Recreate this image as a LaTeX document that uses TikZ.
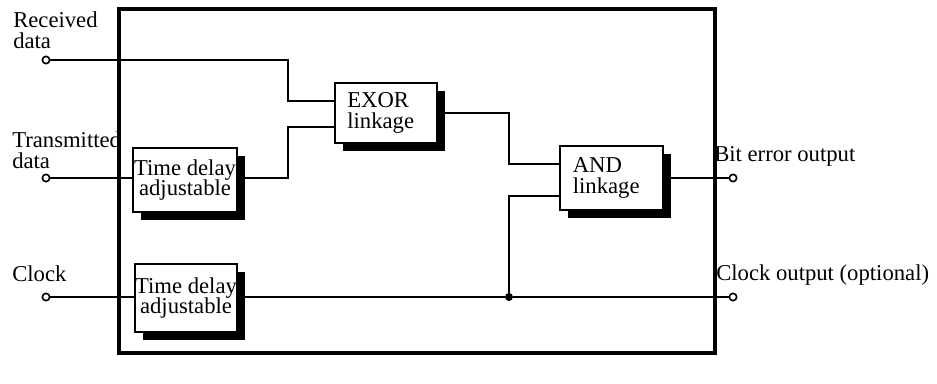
\documentclass[tikz,border=0pt]{standalone}
\usepackage{fontspec}
\setmainfont{Liberation Serif}
\usetikzlibrary{shadows}
\begin{document}
\begin{tikzpicture}[x=0.75pt,y=-0.75pt,
  txt/.style={font=\fontsize{17}{15.5}\selectfont, inner sep=0pt},
  lbl/.style={txt, align=left},
  wire/.style={line width=1.1pt},
  framebox/.style={line width=2.6pt},
  blk/.style={txt, draw, line width=1.1pt, fill=white,
    drop shadow={shadow xshift=6pt, shadow yshift=-6pt, fill=black, opacity=1}},
  gate/.style={blk, align=left, text width=58pt, inner xsep=8pt},
  delay/.style={blk, align=center},
  term/.style={circle, draw, fill=white, line width=1.2pt, inner sep=0pt, minimum size=5.5pt},
  dot/.style={circle, fill=black, inner sep=0pt, minimum size=6pt}]
\useasboundingbox (0,0) rectangle (937,383);

% blocks
\node[gate, minimum width=76.5pt, minimum height=45pt] (exor) at (386,113) {EXOR\\linkage};
\node[gate, minimum width=77.25pt, minimum height=48pt] (and) at (611.5,178) {AND\\linkage};
\node[delay, minimum width=78pt, minimum height=48pt] (td1) at (185,180) {Time delay\\adjustable};
\node[delay, minimum width=76.5pt, minimum height=51pt] (td2) at (186,298) {Time delay\\adjustable};

% terminals
\node[term] (rd) at (46,60) {};
\node[term] (txd) at (46,178) {};
\node[term] (clk) at (46,297) {};
\node[term] (beo) at (733,178) {};
\node[term] (clko) at (733,297) {};
\node[dot] (jn) at (509,297) {};

% wires
\draw[wire] (rd) -- (288,60) -- (288,101) -- (exor.west |- 0,101);
\draw[wire] (txd) -- (txd -| td1.west);
\draw[wire] (td1.east |- 0,178) -- (288,178) -- (288,127) -- (exor.west |- 0,127);
\draw[wire] (exor.east |- 0,113) -- (509,113) -- (509,164) -- (and.west |- 0,164);
\draw[wire] (and.east |- 0,178) -- (beo);
\draw[wire] (clk) -- (clk -| td2.west);
\draw[wire] (td2.east |- 0,297) -- (jn) -- (clko);
\draw[wire] (jn) -- (509,196) -- (and.west |- 0,196);

% outer frame
\draw[framebox] (119,9) rectangle (715,353);

% labels
\node[lbl, anchor=base west] (lrd) at (13,48) {Received\\data};
\node[lbl, anchor=base west] (ltx) at (12,168) {Transmitted\\data};
\node[lbl, anchor=base west] (lclk) at (12,281) {Clock};
\node[lbl, anchor=base west] (lbeo) at (714,161) {Bit error output};
\node[lbl, anchor=base west] (lclko) at (716,280) {Clock output (optional)};
\end{tikzpicture}
\end{document}
